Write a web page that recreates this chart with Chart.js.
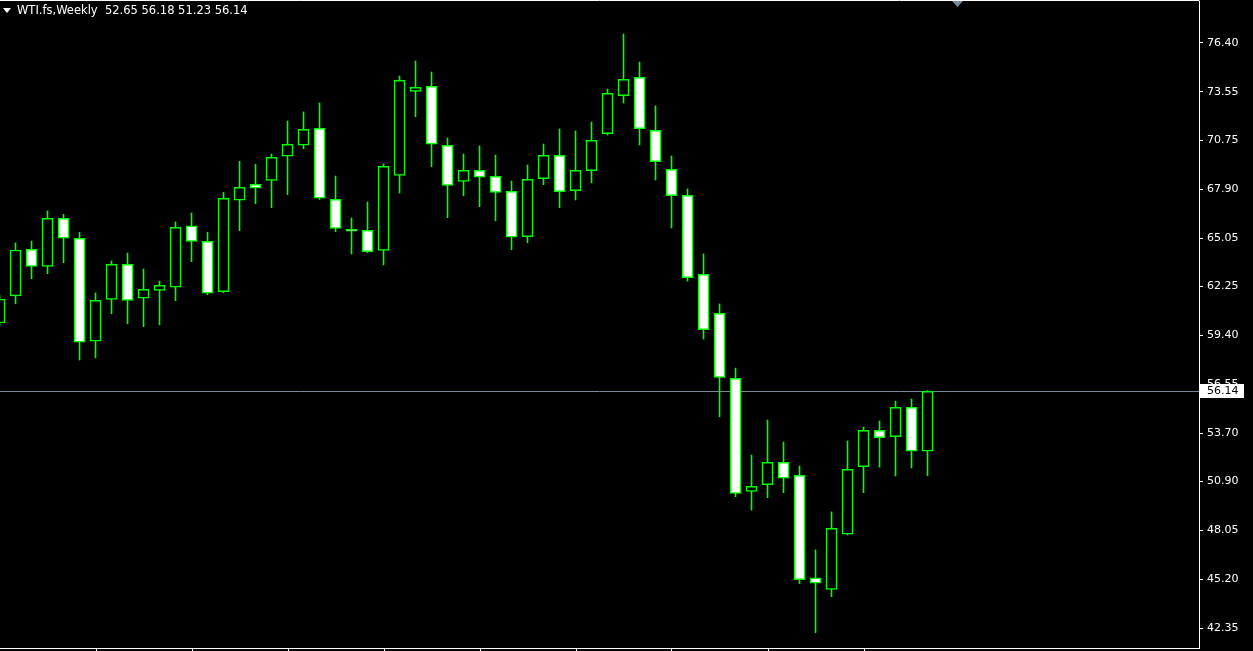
<!DOCTYPE html>
<html>
<head>
<meta charset="utf-8">
<title>WTI.fs, Weekly</title>
<script src="https://cdn.jsdelivr.net/npm/chart.js@4.4.1/dist/chart.umd.min.js"></script>
<style>
    html, body { margin: 0; padding: 0; background: #000; overflow: hidden; }
    #wrap { width: 1253px; height: 651px; position: relative; }
</style>
</head>
<body>
<div id="wrap"><canvas id="wti" width="1253" height="651"></canvas></div>
<script>
// ============================
// Data (weekly candles, oldest -> newest)
// ============================
const symbolTitle = "WTI.fs,Weekly";
const weeks = [];
for (let i = 0; i < 59; i++) weeks.push(i);

const opens = [60.11, 61.68, 64.40, 63.41, 66.20, 65.04, 59.05, 61.49, 63.53, 61.55,
               62.01, 62.19, 65.77, 64.86, 61.93, 67.25, 68.18, 68.41, 69.81, 70.45,
               71.44, 67.31, 65.56, 65.50, 64.34, 68.70, 73.59, 73.88, 70.45, 68.35,
               68.99, 68.65, 67.77, 65.13, 68.51, 69.87, 67.81, 68.97, 71.12, 73.33,
               74.40, 71.32, 69.05, 67.54, 62.94, 60.68, 56.89, 50.32, 50.70, 52.01,
               51.25, 45.29, 44.62, 47.82, 51.75, 53.87, 53.50, 55.21, 52.65];
const highs = [61.75, 64.77, 64.88, 66.63, 66.43, 65.39, 61.86, 63.72, 64.18, 63.25,
               62.55, 65.99, 66.51, 65.39, 67.71, 69.52, 69.34, 69.94, 71.86, 72.39,
               72.91, 68.66, 66.22, 67.15, 69.36, 74.48, 75.35, 74.71, 70.87, 69.94,
               70.41, 69.88, 68.37, 69.30, 70.52, 71.40, 71.28, 71.80, 73.72, 76.92,
               75.29, 72.74, 69.83, 67.91, 64.13, 61.22, 57.49, 52.43, 54.47, 53.19,
               51.79, 46.91, 49.12, 53.25, 54.06, 54.41, 55.57, 55.69, 56.18];
const lows = [59.95, 61.23, 62.69, 62.98, 63.62, 57.96, 58.08, 60.65, 60.07, 59.90,
              60.01, 61.41, 63.68, 61.76, 61.87, 65.48, 67.05, 66.82, 67.58, 70.25,
              67.30, 65.42, 64.13, 64.20, 63.49, 67.67, 72.11, 69.20, 66.24, 67.52,
              66.88, 66.06, 64.38, 64.78, 68.16, 66.82, 67.27, 68.26, 71.05, 72.91,
              70.47, 68.43, 65.64, 62.55, 59.18, 54.66, 50.01, 49.23, 49.95, 50.24,
              44.95, 42.10, 44.19, 47.78, 50.24, 51.73, 51.21, 51.68, 51.23];
const closes = [61.51, 64.36, 63.41, 66.20, 65.04, 58.99, 61.43, 63.53, 61.43, 62.07,
                62.30, 65.68, 64.86, 61.84, 67.37, 68.01, 67.95, 69.75, 70.51, 71.38,
                67.37, 65.62, 65.45, 64.26, 69.23, 74.23, 73.82, 70.51, 68.12, 68.99,
                68.59, 67.71, 65.10, 68.47, 69.87, 67.75, 68.99, 70.74, 73.47, 74.29,
                71.41, 69.49, 67.52, 62.75, 59.72, 56.95, 50.20, 50.61, 52.01, 51.08,
                45.18, 44.97, 48.17, 51.60, 53.87, 53.44, 55.21, 52.65, 56.14];

// price scale labels on the right
const priceTicks = [42.35, 45.20, 48.05, 50.90, 53.70, 56.55, 59.40,
                    62.25, 65.05, 67.90, 70.75, 73.55, 76.40];
// time scale separators (every 6 weeks)
const timeTicks = [6, 12, 18, 24, 30, 36, 42, 48, 54];

// ============================
// Build datasets
// ============================
const last = weeks.length - 1;
const wickData = weeks.map(i => ({ x: i, y: [lows[i], highs[i]] }));
const bodyData = weeks.map(i => ({ x: i, y: [Math.min(opens[i], closes[i]), Math.max(opens[i], closes[i])] }));
const bodyFill = weeks.map(i => closes[i] >= opens[i] ? "#000000" : "#ffffff");

const GREEN = "#00ff00";
const LINE_GREY = "#778899";

// ============================
// Extra drawing (background, header, bid line)
// ============================
const terminalPlugin = {
    id: "terminal",
    beforeDraw(chart) {
        const ctx = chart.ctx;
        ctx.save();
        ctx.fillStyle = "#000";
        ctx.fillRect(0, 0, chart.width, chart.height);
        ctx.restore();
    },
    beforeDatasetsDraw(chart) {
        const ctx = chart.ctx;
        const area = chart.chartArea;
        const y = Math.round(chart.scales.y.getPixelForValue(closes[last])) + 0.5;
        ctx.save();
        ctx.strokeStyle = LINE_GREY;
        ctx.lineWidth = 1;
        ctx.beginPath();
        ctx.moveTo(area.left, y);
        ctx.lineTo(area.right, y);
        ctx.stroke();
        ctx.restore();
    },
    afterDraw(chart) {
        const ctx = chart.ctx;
        const area = chart.chartArea;
        ctx.save();

        // top frame
        ctx.strokeStyle = "#ffffff";
        ctx.lineWidth = 1;
        ctx.beginPath();
        ctx.moveTo(0, 0.5);
        ctx.lineTo(area.right + 0.5, 0.5);
        ctx.stroke();

        // shift marker
        ctx.fillStyle = LINE_GREY;
        ctx.beginPath();
        ctx.moveTo(952, 1);
        ctx.lineTo(963, 1);
        ctx.lineTo(957.5, 7);
        ctx.closePath();
        ctx.fill();

        // header
        ctx.fillStyle = "#ffffff";
        ctx.beginPath();
        ctx.moveTo(3, 8);
        ctx.lineTo(11, 8);
        ctx.lineTo(7, 13);
        ctx.closePath();
        ctx.fill();
        ctx.font = "11.5px 'DejaVu Sans'";
        ctx.textBaseline = "middle";
        const n = v => v.toFixed(2);
        ctx.fillText(symbolTitle + "  " + n(opens[last]) + " " + n(highs[last]) + " " +
                     n(lows[last]) + " " + n(closes[last]), 17, 11.5);

        // current price label
        ctx.font = "11px 'DejaVu Sans'";
        const y = Math.round(chart.scales.y.getPixelForValue(closes[last]));
        ctx.fillStyle = "#ffffff";
        ctx.fillRect(area.right + 1, y - 7, 44, 14);
        ctx.fillStyle = "#000000";
        ctx.fillText(n(closes[last]), 1207, y + 0.5);
        ctx.restore();
    }
};

// ============================
// Chart
// ============================
const chart = new Chart(document.getElementById("wti"), {
    type: "bar",
    data: {
        datasets: [
            {
                label: "body",
                data: bodyData,
                backgroundColor: bodyFill,
                borderColor: GREEN,
                borderWidth: 1.5,
                borderSkipped: false,
                barThickness: 11,
                grouped: false
            },
            {
                label: "wick",
                data: wickData,
                backgroundColor: GREEN,
                borderWidth: 0,
                barThickness: 1,
                grouped: false
            }
        ]
    },
    options: {
        responsive: false,
        devicePixelRatio: 1,
        animation: false,
        layout: { padding: { top: 1, left: 0, right: 0, bottom: 0 } },
        plugins: {
            legend: { display: false },
            tooltip: { enabled: false }
        },
        scales: {
            x: {
                type: "linear",
                offset: false,
                min: 0.03125,
                max: 0.03125 + 1199 / 16,
                afterBuildTicks: s => { s.ticks = timeTicks.map(v => ({ value: v + 0.03125 })); },
                afterFit: s => {
                    s.height = 3;
                    s.paddingLeft = 0; s.paddingRight = 0;
                    s.paddingTop = 0; s.paddingBottom = 0;
                },
                ticks: { display: false },
                grid: { display: true, offset: false, drawOnChartArea: false, drawTicks: true, tickLength: 3, color: "#ffffff" },
                border: { display: true, color: "#ffffff" }
            },
            y: {
                position: "right",
                min: 76.40 - (648 - 43) / 17.19,
                max: 76.40 + (43 - 1) / 17.19,
                afterBuildTicks: s => { s.ticks = priceTicks.map(v => ({ value: v })); },
                afterFit: s => {
                    s.width = 54;
                    s.paddingTop = 0; s.paddingBottom = 0;
                    s.paddingLeft = 0; s.paddingRight = 0;
                },
                ticks: {
                    autoSkip: false,
                    color: "#ffffff",
                    padding: 4,
                    font: { family: "DejaVu Sans", size: 11 },
                    callback: v => Number(v).toFixed(2)
                },
                grid: { display: true, drawOnChartArea: false, drawTicks: true, tickLength: 4, color: "#ffffff" },
                border: { display: true, color: "#ffffff" }
            }
        }
    },
    plugins: [terminalPlugin]
});
</script>
</body>
</html>
